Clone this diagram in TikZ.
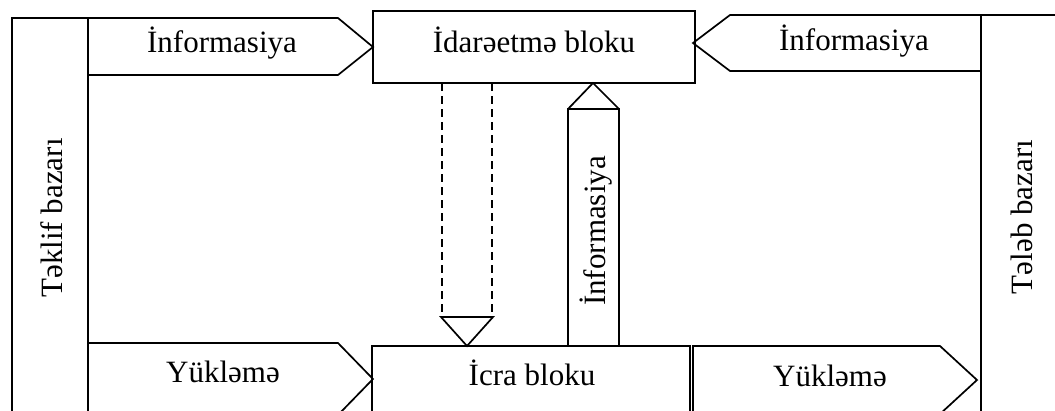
\documentclass[tikz,border=0pt]{standalone}
\usepackage{fontspec}
\setmainfont{Liberation Serif}
\begin{document}
\begin{tikzpicture}[x=1pt,y=-1pt,
  line/.style={line width=1.7pt, line join=miter},
  dashline/.style={line width=1.7pt, dash pattern=on 8pt off 5pt},
  lbl/.style={inner sep=0pt, anchor=base, font=\fontsize{31}{36}\selectfont}]
\useasboundingbox (0,0) rectangle (1055,410);
\clip (0,0) rectangle (1055,410);
% market boxes
\draw[line] (12,430) -- (12,18) -- (88,18) -- (88,430);
\draw[line] (981,430) -- (981,15) -- (1070,15);
\node[lbl, rotate=90] (teklif) at (62,218) {Təklif bazarı};
\node[lbl, rotate=90] (teleb) at (1032,217) {Tələb bazarı};
% control and execution blocks
\draw[line] (373,11) rectangle (695,83);
\node[lbl] (idare) at (534,52) {İdarəetmə bloku};
\draw[line] (690,430) -- (690,346) -- (372,346) -- (372,430);
\node[lbl] (icra) at (532,385) {İcra bloku};
% top-left information arrow
\draw[line] (88,18) -- (338,18) -- (373,47) -- (338,75) -- (88,75);
\node[lbl] (infL) at (222,52) {İnformasiya};
% top-right information arrow
\draw[line] (981,15) -- (730,15) -- (693,43) -- (730,71) -- (981,71);
\node[lbl] (infR) at (854,50) {İnformasiya};
% dashed downward arrow
\draw[dashline] (442,83) -- (442,317);
\draw[dashline] (492,83) -- (492,317);
\draw[line] (441,317) -- (493,317) -- (467,346) -- cycle;
% solid upward arrow
\draw[line] (568,346) -- (568,109) -- (619,109) -- (619,346);
\draw[line] (568,109) -- (593,83) -- (619,109);
\node[lbl, rotate=90] (infV) at (605,231) {İnformasiya};
% bottom-left load arrow
\draw[line] (88,343) -- (338,343) -- (373,379) -- (338,415) -- (88,415);
\node[lbl] (yukL) at (223,382) {Yükləmə};
% bottom-right load arrow
\draw[line] (693,430) -- (693,346) -- (940,346) -- (977,380) -- (940,414) -- (693,414);
\node[lbl] (yukR) at (830,386) {Yükləmə};
\end{tikzpicture}
\end{document}
